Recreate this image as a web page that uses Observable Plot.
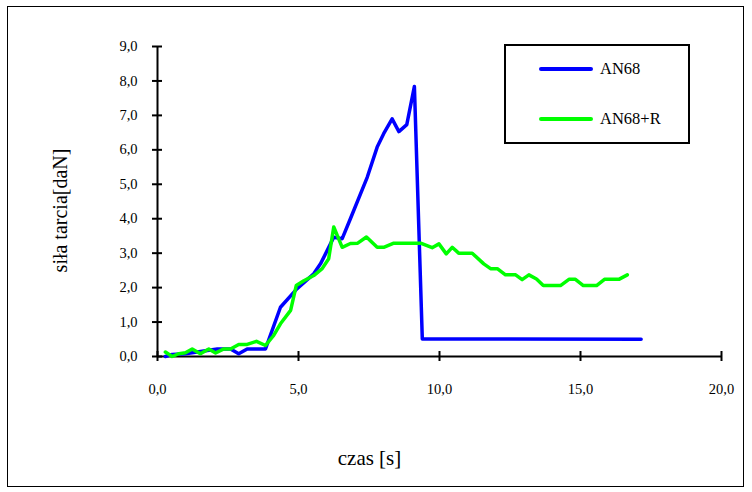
<!DOCTYPE html>
<html>
<head>
<meta charset="utf-8">
<script src="https://cdn.jsdelivr.net/npm/d3@7"></script>
<script src="https://cdn.jsdelivr.net/npm/@observablehq/plot@0.6"></script>
<style>
  html, body { margin: 0; padding: 0; background: #fff; }
  #wrap { position: relative; width: 752px; height: 492px; overflow: hidden; font-family: "Liberation Serif", "Times New Roman", Times, "DejaVu Serif", serif; }
  #outer { position: absolute; left: 7px; top: 6px; width: 737px; height: 481px; border: 1.5px solid #000; box-sizing: border-box; pointer-events: none; }
  #legend { position: absolute; left: 504px; top: 44px; width: 186px; height: 100px; border: 2px solid #000; box-sizing: border-box; background: #fff; }
  .item { position: absolute; left: 33px; height: 20px; display: flex; align-items: center; font-size: 16.5px; color: #000; }
  .swatch { width: 54px; height: 4px; border-radius: 2px; margin-right: 7px; }
  svg { display: block; }
</style>
</head>
<body>
<div id="wrap">
  <div id="chart"></div>
  <div id="outer"></div>
  <div id="legend"></div>
</div>
<script>
// Series names and colours
const seriesNames = ["AN68", "AN68+R"];
const seriesColors = ["#0000ff", "#00ff00"];

// AN68 (blue): time [s] and friction force [daN]
const an68Time  = [0.28, 0.52, 0.99, 2.12, 2.59, 2.88, 3.18, 3.83, 4.36, 4.95, 5.54, 5.78, 6.02, 6.25, 6.55, 6.84, 7.44, 7.79, 8.02, 8.32, 8.56, 8.84, 9.11, 9.39, 17.15];
const an68Force = [0.00, 0.06, 0.08, 0.22, 0.22, 0.08, 0.22, 0.22, 1.43, 1.97, 2.40, 2.69, 3.08, 3.46, 3.42, 4.00, 5.21, 6.08, 6.47, 6.90, 6.53, 6.73, 7.84, 0.51, 0.50];

// AN68+R (green)
const an68rTime  = [0.28, 0.52, 0.76, 0.99, 1.23, 1.52, 1.82, 2.06, 2.35, 2.59, 2.88, 3.18, 3.51, 3.83, 4.12, 4.36, 4.72, 4.92, 5.19, 5.54, 5.84, 6.07, 6.25, 6.55, 6.84, 7.10, 7.41, 7.79, 8.02, 8.38, 9.33, 9.74, 9.98, 10.24, 10.45, 10.68, 11.16, 11.57, 11.81, 12.05, 12.34, 12.70, 12.93, 13.17, 13.44, 13.68, 14.29, 14.59, 14.82, 15.10, 15.57, 15.85, 16.36, 16.66];
const an68rForce = [0.13, 0.00, 0.08, 0.11, 0.22, 0.08, 0.22, 0.10, 0.22, 0.22, 0.35, 0.35, 0.44, 0.32, 0.61, 0.95, 1.34, 2.06, 2.20, 2.35, 2.55, 2.84, 3.76, 3.17, 3.28, 3.29, 3.47, 3.17, 3.17, 3.29, 3.29, 3.16, 3.27, 2.98, 3.17, 3.00, 3.00, 2.69, 2.55, 2.55, 2.37, 2.37, 2.23, 2.37, 2.25, 2.06, 2.06, 2.24, 2.24, 2.06, 2.06, 2.24, 2.24, 2.37];

// Axis ticks and titles
const xTicks = [0, 5, 10, 15, 20];
const yTicks = [0, 1, 2, 3, 4, 5, 6, 7, 8, 9];
const xTitle = "czas [s]";
const yTitle = "siła tarcia[daN]";

const an68 = an68Time.map((t, i) => ({t, f: an68Force[i]}));
const an68r = an68rTime.map((t, i) => ({t, f: an68rForce[i]}));
const fmt = d => d.toFixed(1).replace(".", ",");
const font = '"Liberation Serif", "Times New Roman", Times, "DejaVu Serif", serif';

const chart = Plot.plot({
  width: 752,
  height: 492,
  marginLeft: 157,
  marginRight: 31,
  marginTop: 46,
  marginBottom: 136,
  style: {fontFamily: font, background: "#fff", overflow: "visible"},
  x: {domain: [0, 20], axis: null},
  y: {domain: [0, 9], axis: null},
  marks: [
    // axis lines
    Plot.ruleY([0], {x1: 0, x2: 20, stroke: "#000", strokeWidth: 2}),
    Plot.ruleX([0], {y1: 0, y2: 9, stroke: "#000", strokeWidth: 2}),
    // crossing ticks
    Plot.ruleX(xTicks, {x: d => d, y1: 0, y2: 0, insetTop: -5, insetBottom: -5, stroke: "#000", strokeWidth: 2}),
    Plot.ruleY(yTicks, {y: d => d, x1: 0, x2: 0, insetLeft: -5, insetRight: -5, stroke: "#000", strokeWidth: 2}),
    // tick labels
    Plot.text(xTicks, {x: d => d, y: 0, dy: 33, text: fmt, fontSize: 14.5, fontFamily: font, fill: "#000"}),
    Plot.text(yTicks, {x: 0, y: d => d, dx: -20, text: fmt, textAnchor: "end", fontSize: 14.5, fontFamily: font, fill: "#000"}),
    // axis titles
    Plot.text([xTitle], {frameAnchor: "bottom", dx: -70, dy: 102, text: d => d, textAnchor: "middle", lineAnchor: "middle", fontSize: 21, fontFamily: font, fill: "#000"}),
    Plot.text([yTitle], {frameAnchor: "left", dx: -97, dy: 9, rotate: -90, text: d => d, textAnchor: "middle", lineAnchor: "middle", fontSize: 20, fontFamily: font, fill: "#000"}),
    // series
    Plot.line(an68, {x: "t", y: "f", stroke: seriesColors[0], strokeWidth: 3.5}),
    Plot.line(an68r, {x: "t", y: "f", stroke: seriesColors[1], strokeWidth: 3.5})
  ]
});
document.getElementById("chart").appendChild(chart);

// legend
const legend = document.getElementById("legend");
seriesNames.forEach((name, i) => {
  const it = document.createElement("div");
  it.className = "item";
  it.style.top = (i === 0 ? 13 : 63) + "px";
  const sw = document.createElement("div");
  sw.className = "swatch";
  sw.style.background = seriesColors[i];
  const lb = document.createElement("span");
  lb.textContent = name;
  it.appendChild(sw);
  it.appendChild(lb);
  legend.appendChild(it);
});
</script>
</body>
</html>
